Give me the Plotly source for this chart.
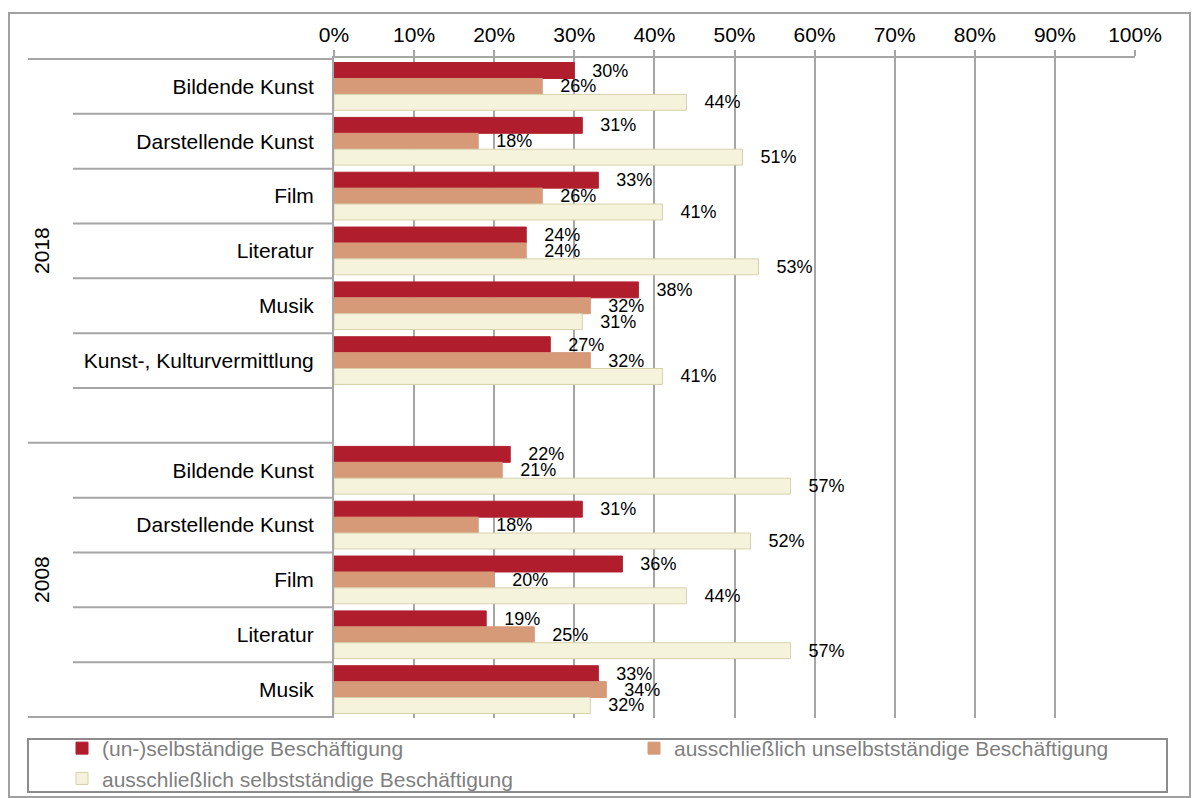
import plotly.graph_objects as go

# --- data -----------------------------------------------------------------
years = ["2018", "2008"]
cats_2018 = ["Bildende Kunst", "Darstellende Kunst", "Film", "Literatur", "Musik",
             "Kunst-, Kulturvermittlung"]
cats_2008 = ["Bildende Kunst", "Darstellende Kunst", "Film", "Literatur", "Musik"]

series_names = ["(un-)selbständige Beschäftigung",
                "ausschließlich unselbstständige Beschäftigung",
                "ausschließlich selbstständige Beschäftigung"]

un_selb_2018 = [30, 31, 33, 24, 38, 27]
aus_unselb_2018 = [26, 18, 26, 24, 32, 32]
aus_selb_2018 = [44, 51, 41, 53, 31, 41]

un_selb_2008 = [22, 31, 36, 19, 33]
aus_unselb_2008 = [21, 18, 20, 25, 34]
aus_selb_2008 = [57, 52, 44, 57, 32]

colors = ["#B01E2D", "#D69A78", "#F6F3DC"]
edge_colors = ["#B01E2D", "#D69A78", "#D6D1AC"]
# legend column used by each series (two-column legend box)
legend_slots = ["legend", "legend2", "legend"]

# --- category rows: 2018 block (plus an empty spacer row), then 2008 block --
rows = [("2018", c) for c in cats_2018] + [("2018", "")] + [("2008", c) for c in cats_2008]
keys = [f"{y}|{c}" for y, c in rows]
labels = [c for _, c in rows]

series_values = [
    un_selb_2018 + [None] + un_selb_2008,
    aus_unselb_2018 + [None] + aus_unselb_2008,
    aus_selb_2018 + [None] + aus_selb_2008,
]

GRID = "#A6A6A6"
FONT = "Liberation Sans, Arial, sans-serif"
PAD = "\u00a0" * 3

fig = go.Figure()
for name, vals, col, edge, slot in zip(series_names, series_values, colors,
                                       edge_colors, legend_slots):
    fig.add_trace(go.Bar(
        name=name,
        orientation="h",
        x=vals,
        y=keys,
        legend=slot,
        marker=dict(color=col, line=dict(color=edge, width=1)),
        text=[PAD + f"{v}%" if v is not None else "" for v in vals],
        textposition="outside",
        textfont=dict(size=18, color="#000000", family=FONT),
        constraintext="none",
        cliponaxis=False,
        hoverinfo="skip",
    ))

# pixel helpers for paper coordinates (plot area spans x 334..1135, y 58..718)
L, R, T, B = 334, 1135, 58, 718
def px(x):
    return (x - L) / (R - L)
def py(y):
    return (B - y) / (B - T)

shapes = []
# row separators: short ones inside a year block, long ones between blocks
n = len(keys)
group_bounds = {-0.5, 6.5, n - 0.5}
for i in range(n + 1):
    b = i - 0.5
    x0 = px(28) if b in group_bounds else px(73)
    shapes.append(dict(type="line", xref="paper", yref="y", x0=x0, x1=0,
                       y0=b, y1=b, line=dict(color=GRID, width=2)))

# outer chart frame
shapes.append(dict(type="rect", xref="paper", yref="paper",
                   x0=px(9), x1=px(1190), y0=py(797), y1=py(13),
                   line=dict(color="#A0A0A0", width=2), layer="below"))
# legend frame
shapes.append(dict(type="rect", xref="paper", yref="paper",
                   x0=px(28), x1=px(1167), y0=py(792), y1=py(739),
                   line=dict(color="#8C8C8C", width=2)))

annotations = [
    dict(text="2018", xref="paper", yref="y", x=px(42), y=3, textangle=-90,
         xanchor="center", yanchor="middle",
         showarrow=False, font=dict(size=21, color="#000000", family=FONT)),
    dict(text="2008", xref="paper", yref="y", x=px(42), y=9, textangle=-90,
         xanchor="center", yanchor="middle",
         showarrow=False, font=dict(size=21, color="#000000", family=FONT)),
]

legend_style = dict(orientation="v", yanchor="top", xanchor="left",
                    traceorder="normal", tracegroupgap=0,
                    font=dict(size=21, color="#7F7F7F", family=FONT),
                    bgcolor="rgba(0,0,0,0)", borderwidth=0)

fig.update_layout(
    width=1193, height=798,
    margin=dict(l=L, r=1193 - R, t=T, b=798 - B, autoexpand=False),
    paper_bgcolor="#FFFFFF", plot_bgcolor="#FFFFFF",
    barmode="group", bargap=0.13, bargroupgap=0,
    font=dict(family=FONT, color="#000000"),
    showlegend=True,
    legend=dict(x=px(62), y=py(728), **legend_style),
    legend2=dict(x=px(634), y=py(728), **legend_style),
    shapes=shapes,
    annotations=annotations,
)

fig.update_xaxes(
    side="top", range=[0, 100], dtick=10, ticksuffix="%",
    showgrid=True, gridcolor=GRID, gridwidth=2,
    showline=True, linecolor=GRID, linewidth=2,
    ticks="outside", ticklen=6, tickcolor=GRID, tickwidth=2,
    tickfont=dict(size=21, color="#000000", family=FONT),
    zeroline=False, automargin=False, fixedrange=True,
)
fig.update_yaxes(
    type="category", categoryorder="array", categoryarray=keys,
    autorange="reversed",
    tickmode="array", tickvals=keys, ticktext=labels,
    tickfont=dict(size=21, color="#000000", family=FONT),
    ticks="", ticklabelstandoff=14,
    showline=True, linecolor=GRID, linewidth=2,
    showgrid=False, zeroline=False, automargin=False, fixedrange=True,
)

fig.write_html("out.html")
